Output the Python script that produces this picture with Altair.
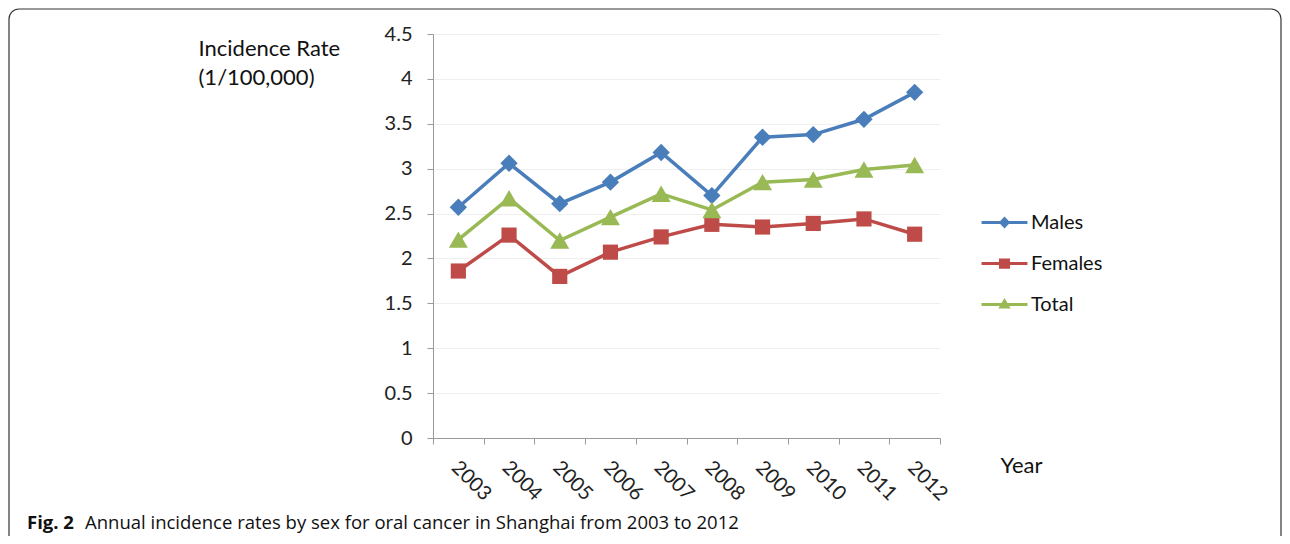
import altair as alt
import pandas as pd

years = ["2003", "2004", "2005", "2006", "2007", "2008", "2009", "2010", "2011", "2012"]
series = ["Males", "Females", "Total"]
males = [2.57, 3.06, 2.61, 2.85, 3.18, 2.70, 3.35, 3.38, 3.55, 3.85]
females = [1.86, 2.26, 1.80, 2.07, 2.24, 2.38, 2.35, 2.39, 2.44, 2.27]
total = [2.21, 2.67, 2.20, 2.46, 2.72, 2.54, 2.85, 2.88, 2.99, 3.04]
colors = ["#4a7ebb", "#be4b48", "#98b954"]
y_ticks = [0, 0.5, 1, 1.5, 2, 2.5, 3, 3.5, 4, 4.5]
caption_bold = "Fig. 2"
caption_text = "Annual incidence rates by sex for oral cancer in Shanghai from 2003 to 2012"

rows = []
for name, vals in zip(series, [males, females, total]):
    for yr, v in zip(years, vals):
        rows.append({"year": yr, "series": name, "value": v})
df = pd.DataFrame(rows)

FONT = "Lato"
X0, Y0 = 433, 34          # page position of plot origin
W, H = 507, 404

color_scale = alt.Scale(domain=series, range=colors)

line_path = "M-1.12,-0.073H1.12V0.073H-1.12Z"
legend_shapes = [
    line_path + "M0,-0.29L0.28,0L0,0.29L-0.28,0Z",
    line_path + "M-0.27,-0.25H0.27V0.25H-0.27Z",
    line_path + "M0,-0.32L0.3,0.2H-0.3Z",
]

x_enc = alt.X(
    "year:O",
    sort=years,
    bandPosition=0.5,
    scale=alt.Scale(type="band", paddingInner=0, paddingOuter=0),
    axis=alt.Axis(
        title="Year",
        titleX=1021 - X0, titleY=34, titleAlign="center", titleBaseline="alphabetic",
        titleFontSize=22, titleFontWeight="normal", titleFont=FONT, titleColor="#111",
        labelAngle=45, labelFontSize=20, labelFont=FONT, labelColor="#222",
        labelPadding=13, labelOffset=3,
        tickBand="extent", tickSize=6, tickColor="#9a9a9a", domainColor="#9a9a9a",
        grid=False,
    ),
)
y_enc = alt.Y(
    "value:Q",
    scale=alt.Scale(domain=[0, 4.5], nice=False, zero=True),
    axis=alt.Axis(
        values=y_ticks, format="~g",
        title=["Incidence Rate", "(1/100,000)"],
        titleAngle=0, titleAlign="left", titleBaseline="alphabetic",
        titleX=198 - X0, titleY=55 - Y0, titleLineHeight=29,
        titleFontSize=22, titleFontWeight="normal", titleFont=FONT, titleColor="#111",
        labelFontSize=20, labelFont=FONT, labelColor="#222", labelPadding=15,
        tickSize=6, tickColor="#9a9a9a", domainColor="#9a9a9a",
        grid=True, gridColor="#efefef", gridWidth=1,
    ),
)

base = alt.Chart(df).encode(x=x_enc, y=y_enc)

leg = alt.Legend(
    title=None, orient="none", legendX=551, legendY=168,
    direction="vertical", symbolSize=1681, symbolStrokeWidth=0,
    labelFontSize=20, labelFont=FONT, labelColor="#111", labelOffset=6,
    rowPadding=10, padding=0,
)

legend_layer = base.transform_filter("false").mark_point(
    filled=True, opacity=1, strokeWidth=0
).encode(
    color=alt.Color("series:N", scale=color_scale, legend=leg),
    shape=alt.Shape("series:N", scale=alt.Scale(domain=series, range=legend_shapes), legend=leg),
)

lines = base.mark_line(strokeWidth=3.5).encode(
    color=alt.Color("series:N", scale=color_scale, legend=None),
    detail="series:N",
)

marker_layers = []
for name, shp, sz in zip(series, ["diamond", "square", "triangle-up"], [300, 230, 360]):
    marker_layers.append(
        base.transform_filter(alt.datum.series == name)
        .mark_point(filled=True, shape=shp, size=sz, opacity=1, strokeWidth=0)
        .encode(color=alt.Color("series:N", scale=color_scale, legend=None))
    )

one = alt.Data(values=[{}])
frame = alt.Chart(one).mark_rect(
    filled=False, stroke="#333", strokeWidth=1.2, cornerRadius=10, clip=False
).encode(
    x=alt.value(9 - X0), x2=alt.value(1281 - X0),
    y=alt.value(9 - Y0), y2=alt.value(600 - Y0),
)
cap1 = alt.Chart(one).mark_text(
    text=caption_bold, font="Open Sans", fontSize=18.5, fontWeight="bold",
    align="left", baseline="alphabetic", color="#111", clip=False,
).encode(x=alt.value(27 - X0), y=alt.value(529 - Y0))
cap2 = alt.Chart(one).mark_text(
    text=caption_text, font="Open Sans", fontSize=18.5,
    align="left", baseline="alphabetic", color="#111", clip=False,
).encode(x=alt.value(85 - X0), y=alt.value(529 - Y0))

chart = alt.layer(legend_layer, frame, lines, *marker_layers, cap1, cap2).properties(
    width=W, height=H,
    padding={"left": X0 - 8, "top": Y0 - 8, "right": 1274 - (X0 - 8) - W, "bottom": 528 - (Y0 - 8) - H},
    autosize=alt.AutoSizeParams(type="none"),
    background="white",
).configure_view(stroke=None)

chart.save("out.html", embed_options={"renderer": "svg", "actions": False})
